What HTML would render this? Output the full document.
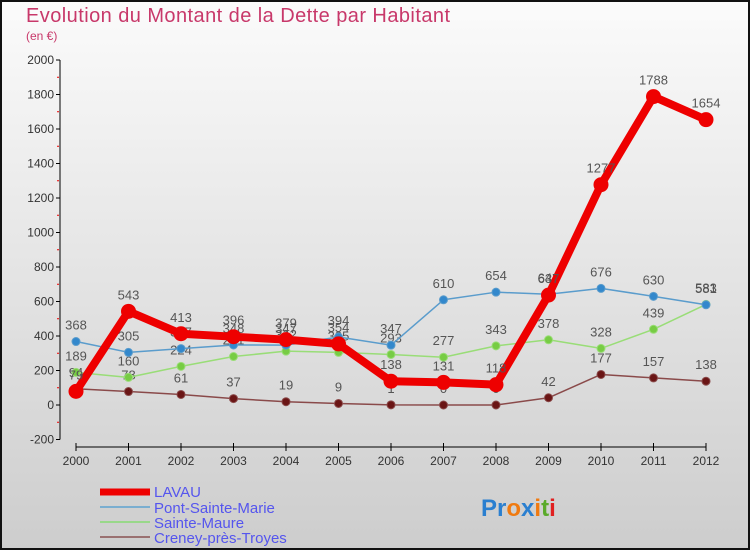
<!DOCTYPE html>
<html><head><meta charset="utf-8"><style>
html,body{margin:0;padding:0}
body{width:750px;height:550px;overflow:hidden;font-family:"Liberation Sans","DejaVu Sans",sans-serif}
</style></head><body>
<svg id="chart" width="750" height="550" xmlns="http://www.w3.org/2000/svg">
<defs><linearGradient id="bg" x1="0" y1="0" x2="0" y2="1"><stop offset="0" stop-color="#fbfbfb"/><stop offset="1" stop-color="#cdcdcd"/></linearGradient></defs>
<rect x="1" y="1" width="748" height="548" fill="url(#bg)" stroke="#111" stroke-width="2"/>
<text x="26" y="22" font-size="20" fill="#c8386a" textLength="424">Evolution du Montant de la Dette par Habitant</text>
<text x="26" y="40" font-size="12" fill="#c8386a">(en €)</text>
<g id="axes"></g><g id="series"></g>
<g font-size="15" fill="#5555ee">
<line x1="100" y1="492" x2="150" y2="492" stroke="#ee0000" stroke-width="7"/><text x="154" y="497">LAVAU</text>
<line x1="100" y1="507" x2="150" y2="507" stroke="#7aaed0" stroke-width="2"/><text x="154" y="513">Pont-Sainte-Marie</text>
<line x1="100" y1="522" x2="150" y2="522" stroke="#99d88a" stroke-width="2"/><text x="154" y="528">Sainte-Maure</text>
<line x1="100" y1="537" x2="150" y2="537" stroke="#9a7070" stroke-width="2"/><text x="154" y="543">Creney-près-Troyes</text>
</g>
<text x="481" y="516" font-size="24" font-weight="bold"><tspan fill="#2a7fd0">Pr</tspan><tspan fill="#f07a10">o</tspan><tspan fill="#2a7fd0">x</tspan><tspan fill="#f07a10">i</tspan><tspan fill="#5aaa2a">t</tspan><tspan fill="#e02020">i</tspan></text>
</svg>
<script>
const years=[2000,2001,2002,2003,2004,2005,2006,2007,2008,2009,2010,2011,2012];
const yTicks=[-200,0,200,400,600,800,1000,1200,1400,1600,1800,2000];
const lavau=[79,543,413,396,379,354,138,131,118,637,1277,1788,1654];
const pont=[368,305,327,348,347,394,347,610,654,642,676,630,581];
const maure=[189,160,224,281,312,305,293,277,343,378,328,439,583];
const creney=[94,78,61,37,19,9,1,0,0,42,177,157,138];
const NS="http://www.w3.org/2000/svg";
const x=i=>76+i*52.5;
const y=v=>405-v*0.1725;
function mk(tag,attrs,parent){const e=document.createElementNS(NS,tag);for(const k in attrs)e.setAttribute(k,attrs[k]);parent.appendChild(e);return e;}
const ax=document.getElementById('axes');
let e=mk('line',{x1:60,y1:y(2000),x2:60,y2:y(-200),stroke:'#000'},ax);


e=mk('line',{x1:x(0),y1:447,x2:x(12),y2:447,stroke:'#000'},ax);


yTicks.forEach(t=>{
  mk('line',{x1:56,y1:y(t),x2:60,y2:y(t),stroke:'#000'},ax);
  if(t<2000) mk('line',{x1:57,y1:y(t+100),x2:59,y2:y(t+100),stroke:'#e00'},ax);
  const l=mk('text',{x:54,y:y(t)+4,'font-size':12,'text-anchor':'end',fill:'#333'},ax);
  
  
  l.textContent=t;
});
years.forEach((yr,i)=>{
  mk('line',{x1:x(i),y1:443,x2:x(i),y2:451,stroke:'#000'},ax);
  const l=mk('text',{x:x(i),y:465,'font-size':12,'text-anchor':'middle',fill:'#333'},ax);
  
  
  l.textContent=yr;
});
const sg=document.getElementById('series');
function draw(name,vals,color,w,r,fill){
  const g=mk('g',{},sg);
  
  
  const p=mk('polyline',{points:vals.map((v,i)=>x(i)+','+y(v)).join(' '),fill:'none',stroke:color,'stroke-width':w,'stroke-linejoin':'round'},g);
  
  
  vals.forEach((v,i)=>{
    const c=mk('circle',{cx:x(i),cy:y(v),r:r,fill:fill,stroke:color,'stroke-width':1},g);
    
    
    const t=mk('text',{x:x(i),y:y(v)-12,'font-size':13,'text-anchor':'middle',fill:'#555'},g);
    
    
    t.textContent=v;
  });
}
draw('creney',creney,'#8a4a4a',1.5,4,'#6a1515');
draw('sainte-maure',maure,'#99dd77',1.5,4,'#77cc44');
draw('pont-sainte-marie',pont,'#5a9ccc',1.5,4,'#3388cc');
draw('lavau',lavau,'#ee0000',8,7,'#ee0000');
</script>
</body></html>
